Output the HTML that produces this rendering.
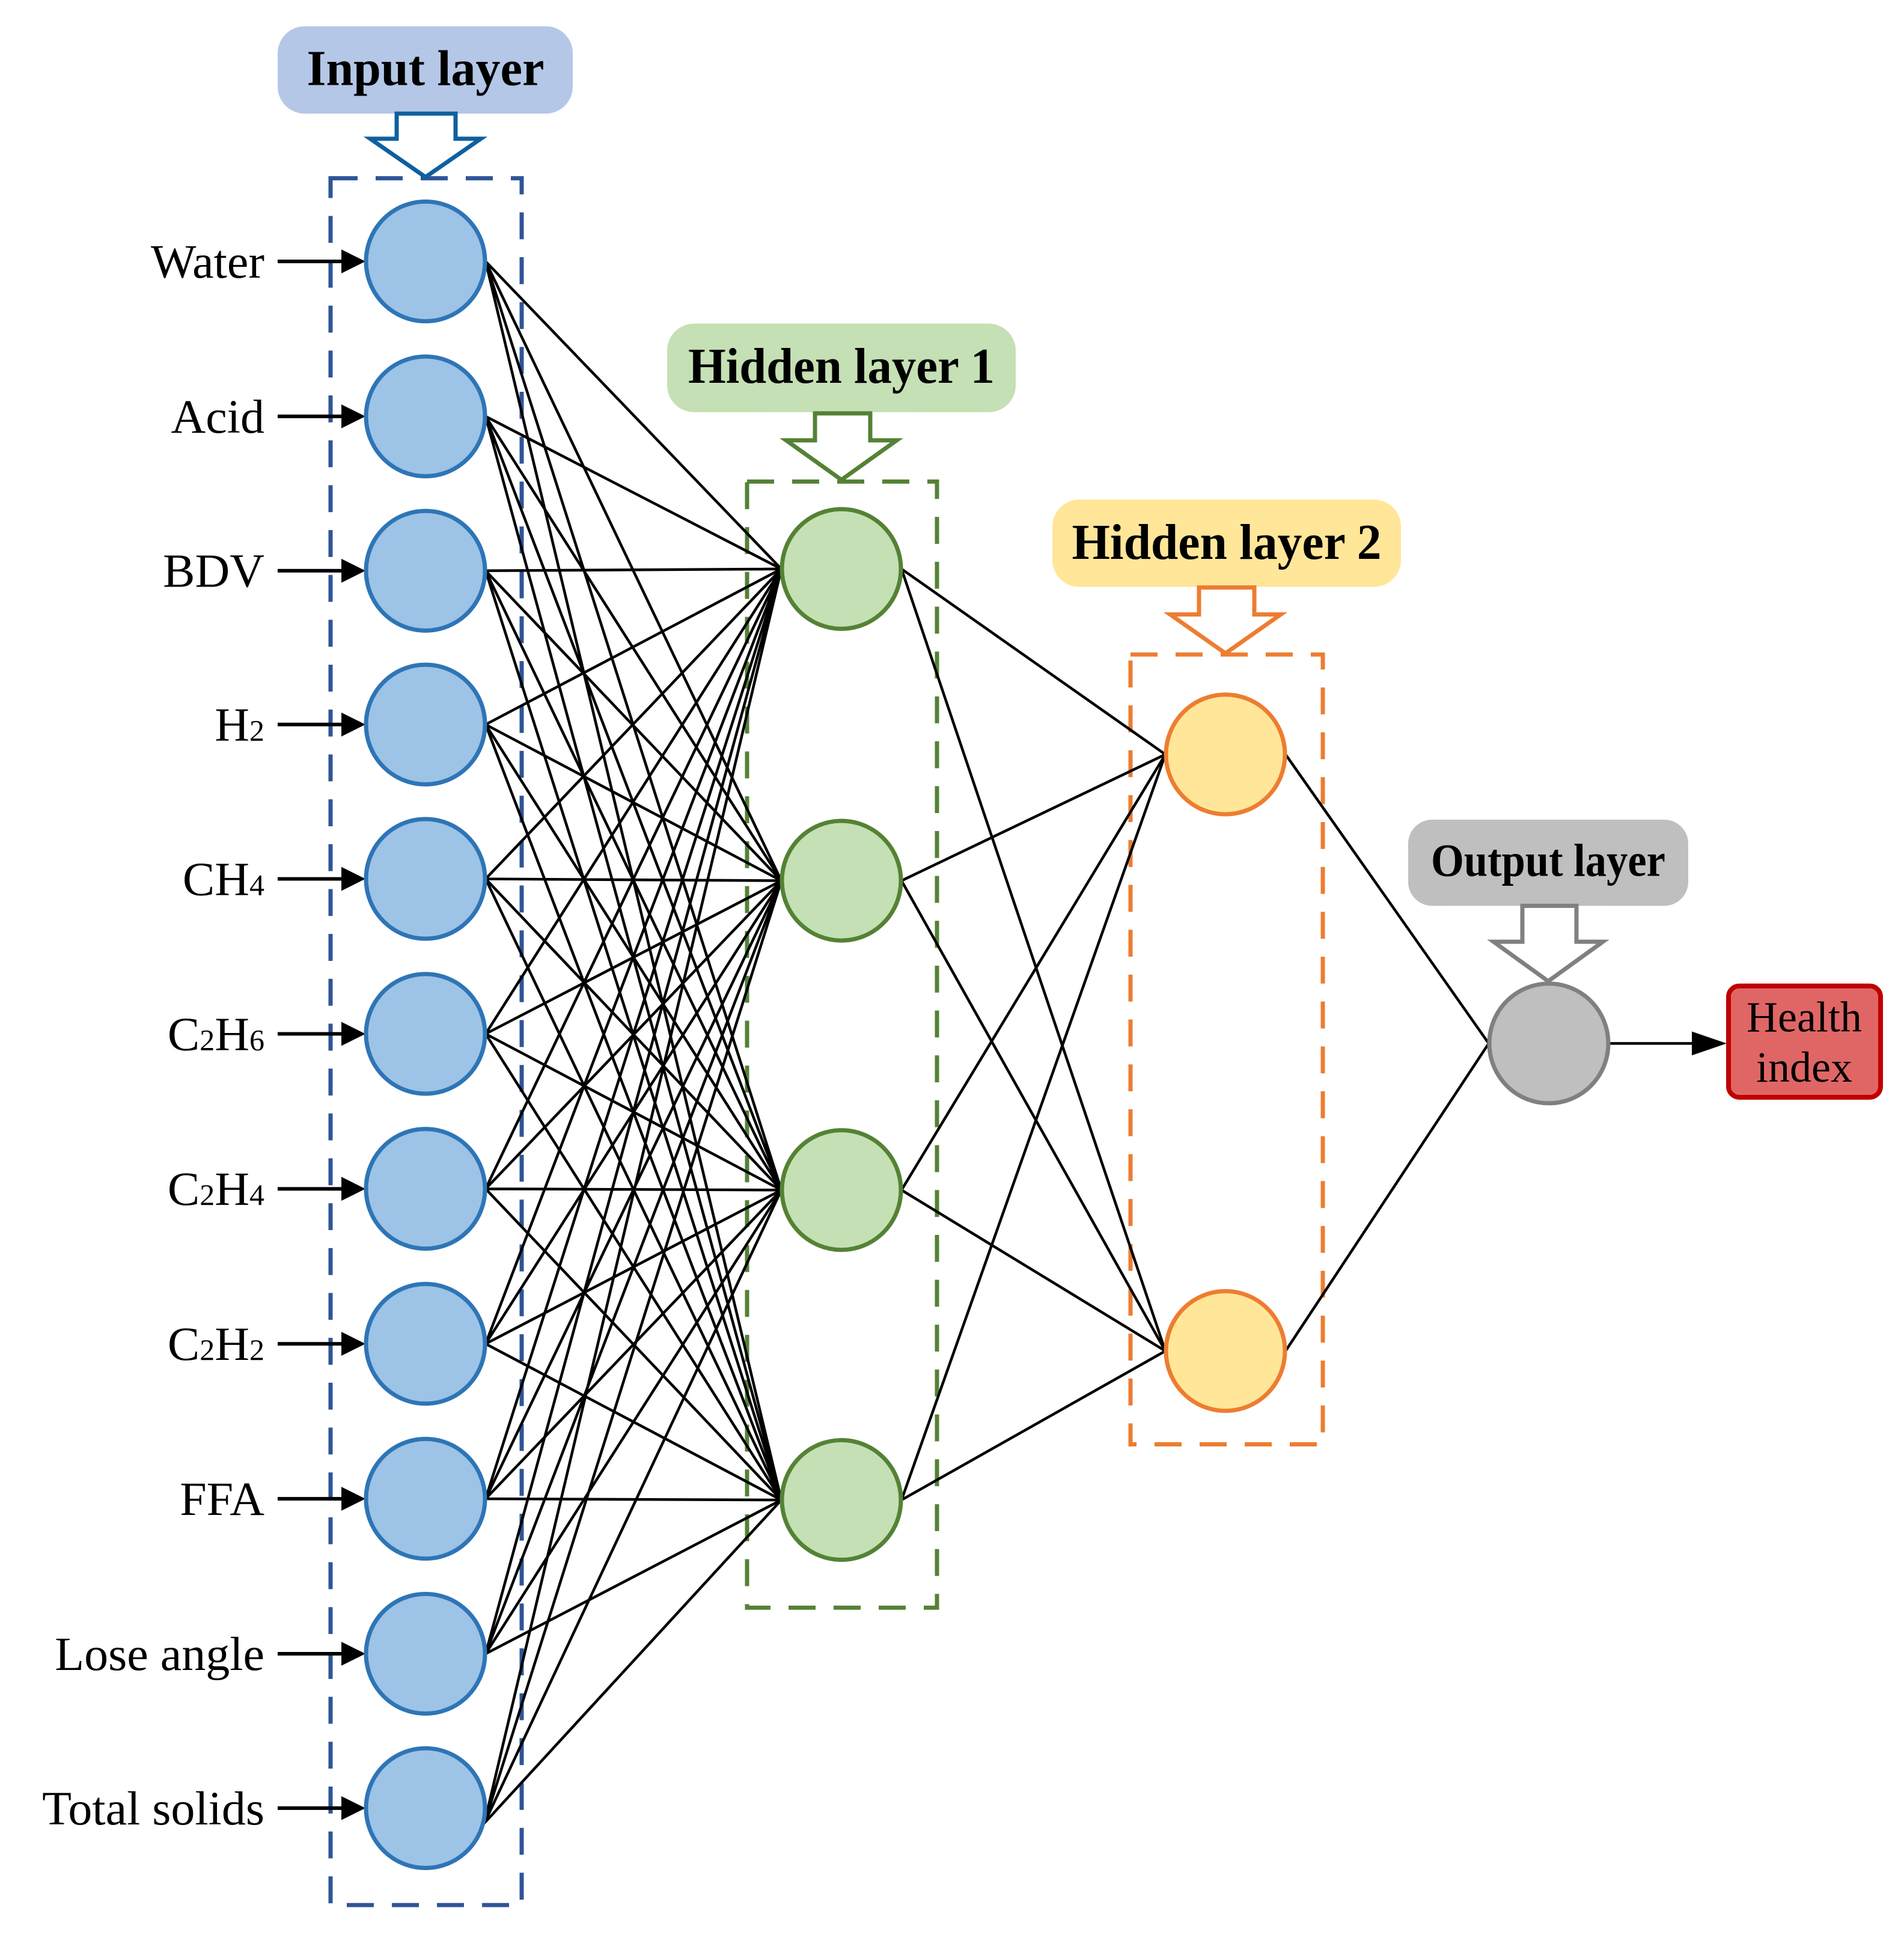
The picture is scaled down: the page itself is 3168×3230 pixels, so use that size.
<!DOCTYPE html>
<html><head><meta charset="utf-8"><style>html,body{margin:0;padding:0;background:#fff}svg{display:block}</style></head>
<body>
<svg width="3168" height="3230" viewBox="0 0 3168 3230" xmlns="http://www.w3.org/2000/svg" font-family="Liberation Serif, serif">
<rect width="3168" height="3230" fill="#fff"/>
<g transform="translate(0,1.87) scale(1,0.9957)">
<!-- dashed boxes -->
<rect x="550" y="296" width="318" height="2886" fill="none" stroke="#2f5597" stroke-width="7" stroke-dasharray="45,30"/>
<rect x="1243" y="803" width="316" height="1882" fill="none" stroke="#548235" stroke-width="7" stroke-dasharray="45,30"/>
<rect x="1881" y="1092" width="320" height="1320" fill="none" stroke="#ed7d31" stroke-width="7" stroke-dasharray="45,30"/>
<!-- connections -->
<path fill="none" stroke="#000" stroke-width="4.5" d="
M808 435L1300 949M808 435L1300 1470M808 435L1300 1987M808 435L1300 2505
M808 694L1300 949M808 694L1300 1470M808 694L1300 1987M808 694L1300 2505
M808 952L1300 949M808 952L1300 1470M808 952L1300 1987M808 952L1300 2505
M808 1209L1300 949M808 1209L1300 1470M808 1209L1300 1987M808 1209L1300 2505
M808 1467L1300 949M808 1467L1300 1470M808 1467L1300 1987M808 1467L1300 2505
M808 1726L1300 949M808 1726L1300 1470M808 1726L1300 1987M808 1726L1300 2505
M808 1985L1300 949M808 1985L1300 1470M808 1985L1300 1987M808 1985L1300 2505
M808 2244L1300 949M808 2244L1300 1470M808 2244L1300 1987M808 2244L1300 2505
M808 2503L1300 949M808 2503L1300 1470M808 2503L1300 1987M808 2503L1300 2505
M808 2762L1300 949M808 2762L1300 1470M808 2762L1300 1987M808 2762L1300 2505
M806 3045L1300 949M806 3045L1300 1470M806 3045L1300 1987M806 3045L1300 2505
M1500 949L1939 1259M1500 949L1939 2256
M1500 1470L1939 1259M1500 1470L1939 2256
M1500 1987L1939 1259M1500 1987L1939 2256
M1500 2505L1939 1259M1500 2505L1939 2256
M2139 1259L2477 1742M2139 2256L2477 1742
M2677 1742L2820 1742
"/>
<polygon points="2815,1722 2873,1742 2815,1762" fill="#000"/>
<!-- input arrows -->
<g stroke="#000" stroke-width="6">
<line x1="462" y1="435" x2="570" y2="435"/><line x1="462" y1="694" x2="570" y2="694"/><line x1="462" y1="952" x2="570" y2="952"/><line x1="462" y1="1209" x2="570" y2="1209"/><line x1="462" y1="1467" x2="570" y2="1467"/><line x1="462" y1="1726" x2="570" y2="1726"/><line x1="462" y1="1985" x2="570" y2="1985"/><line x1="462" y1="2244" x2="570" y2="2244"/><line x1="462" y1="2503" x2="570" y2="2503"/><line x1="462" y1="2762" x2="570" y2="2762"/><line x1="462" y1="3020" x2="570" y2="3020"/>
</g>
<g fill="#000">
<polygon points="568,415 608,435 568,455"/><polygon points="568,674 608,694 568,714"/><polygon points="568,932 608,952 568,972"/><polygon points="568,1189 608,1209 568,1229"/><polygon points="568,1447 608,1467 568,1487"/><polygon points="568,1706 608,1726 568,1746"/><polygon points="568,1965 608,1985 568,2005"/><polygon points="568,2224 608,2244 568,2264"/><polygon points="568,2483 608,2503 568,2523"/><polygon points="568,2742 608,2762 568,2782"/><polygon points="568,3000 608,3020 568,3040"/>
</g>
<!-- input nodes -->
<g fill="#9dc3e6" stroke="#2e75b6" stroke-width="7">
<ellipse cx="708" cy="435" rx="99" ry="100"/><ellipse cx="708" cy="694" rx="99" ry="100"/><ellipse cx="708" cy="952" rx="99" ry="100"/><ellipse cx="708" cy="1209" rx="99" ry="100"/><ellipse cx="708" cy="1467" rx="99" ry="100"/><ellipse cx="708" cy="1726" rx="99" ry="100"/><ellipse cx="708" cy="1985" rx="99" ry="100"/><ellipse cx="708" cy="2244" rx="99" ry="100"/><ellipse cx="708" cy="2503" rx="99" ry="100"/><ellipse cx="708" cy="2762" rx="99" ry="100"/><ellipse cx="708" cy="3020" rx="99" ry="100"/>
</g>
<g fill="#c5e0b4" stroke="#548235" stroke-width="7">
<ellipse cx="1400" cy="949" rx="99" ry="100"/><ellipse cx="1400" cy="1470" rx="99" ry="100"/><ellipse cx="1400" cy="1987" rx="99" ry="100"/><ellipse cx="1400" cy="2505" rx="99" ry="100"/>
</g>
<g fill="#ffe699" stroke="#ed7d31" stroke-width="7">
<ellipse cx="2039" cy="1259" rx="99" ry="100"/><ellipse cx="2039" cy="2256" rx="99" ry="100"/>
</g>
<ellipse cx="2577" cy="1742" rx="99" ry="100" fill="#bfbfbf" stroke="#808080" stroke-width="7"/>
<!-- health -->
<rect x="2876" y="1646" width="253" height="186" rx="18" fill="#e06666" stroke="#c00000" stroke-width="8"/>
<text x="3002" y="1722" font-size="72" text-anchor="middle">Health</text>
<text x="3002" y="1806" font-size="72" text-anchor="middle">index</text>
<!-- layer labels -->
<rect x="462" y="42" width="491" height="146" rx="45" fill="#b4c7e7"/>
<text x="708" y="140" font-size="84" font-weight="bold" text-anchor="middle" textLength="395" lengthAdjust="spacingAndGlyphs">Input layer</text>
<rect x="1110" y="539" width="580" height="148" rx="45" fill="#c5e0b4"/>
<text x="1400" y="638" font-size="84" font-weight="bold" text-anchor="middle" textLength="510" lengthAdjust="spacingAndGlyphs">Hidden layer 1</text>
<rect x="1751" y="833" width="580" height="146" rx="45" fill="#ffe699"/>
<text x="2041" y="932" font-size="84" font-weight="bold" text-anchor="middle" textLength="515" lengthAdjust="spacingAndGlyphs">Hidden layer 2</text>
<rect x="2343" y="1368" width="466" height="144" rx="40" fill="#bfbfbf"/>
<text x="2576" y="1462" font-size="78" font-weight="bold" text-anchor="middle" textLength="390" lengthAdjust="spacingAndGlyphs">Output layer</text>
<!-- block arrows -->
<polygon points="660,188 758,188 758,230 800,230 708,294 616,230 660,230" fill="#fff" stroke="#0f5fa0" stroke-width="7" stroke-linejoin="miter"/>
<polygon points="1356,689 1448,689 1448,734 1492,734 1400,800 1308,734 1356,734" fill="#fff" stroke="#548235" stroke-width="7"/>
<polygon points="1995,980 2087,980 2087,1025 2131,1025 2039,1090 1947,1025 1995,1025" fill="#fff" stroke="#ed7d31" stroke-width="7"/>
<polygon points="2533,1512 2623,1512 2623,1572 2667,1572 2576,1638 2485,1572 2533,1572" fill="#fff" stroke="#808080" stroke-width="7"/>
<!-- input labels -->
<g font-size="80" text-anchor="end">
<text x="440" y="462">Water</text>
<text x="440" y="721">Acid</text>
<text x="440" y="979">BDV</text>
<text x="440" y="1236">H<tspan font-size="50">2</tspan></text>
<text x="440" y="1494">CH<tspan font-size="50">4</tspan></text>
<text x="440" y="1753">C<tspan font-size="50">2</tspan>H<tspan font-size="50">6</tspan></text>
<text x="440" y="2012">C<tspan font-size="50">2</tspan>H<tspan font-size="50">4</tspan></text>
<text x="440" y="2271">C<tspan font-size="50">2</tspan>H<tspan font-size="50">2</tspan></text>
<text x="440" y="2530">FFA</text>
<text x="440" y="2789">Lose angle</text>
<text x="440" y="3047">Total solids</text>
</g>
</g>
</svg>
</body></html>
